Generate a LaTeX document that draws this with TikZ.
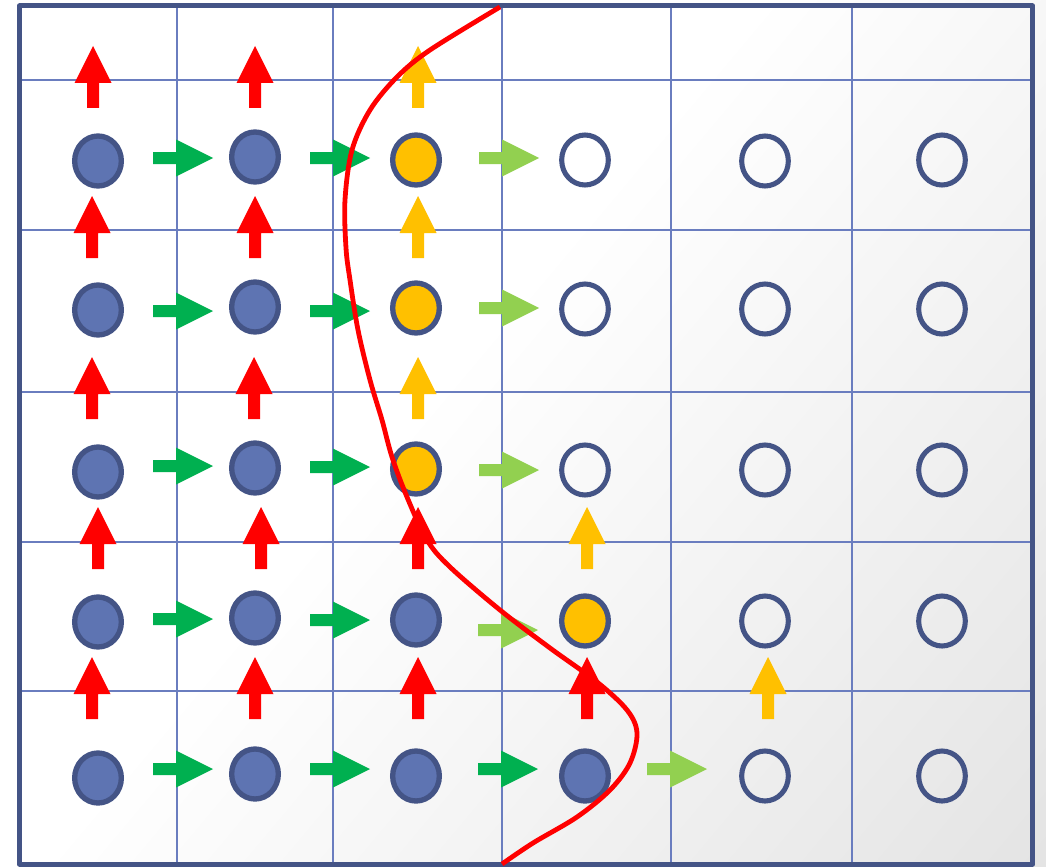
\documentclass[tikz,border=0pt]{standalone}
\usetikzlibrary{shapes.geometric,shadings}
\definecolor{framec}{RGB}{68,84,134}
\definecolor{gridc}{RGB}{106,125,191}
\definecolor{cfill}{RGB}{94,116,178}
\definecolor{orangec}{RGB}{255,192,0}
\definecolor{dgreen}{RGB}{0,176,80}
\definecolor{lgreen}{RGB}{146,208,80}
\definecolor{redc}{RGB}{255,0,0}
\definecolor{bgedge}{RGB}{228,228,228}
\pgfdeclarehorizontalshading{bgshade}{100bp}{color(0bp)=(white); color(45bp)=(white); color(85bp)=(bgedge); color(100bp)=(bgedge)}
\tikzset{
  x=0.75pt, y=-0.75pt,
  cell/.style={ellipse, draw=framec, line width=4pt, minimum width=35pt, minimum height=37.5pt, inner sep=0pt},
  solid cell/.style={cell, fill=cfill},
  front cell/.style={cell, fill=orangec},
  open cell/.style={cell, fill=none, line width=3.8pt},
  gridline/.style={draw=gridc, line width=1.1pt},
  uparr/.pic={\fill (0,0) -- (18.5,37) -- (6,37) -- (6,62) -- (-6,62) -- (-6,37) -- (-18.5,37) -- cycle;},
  rarr/.pic={\fill (0,0) -- (-37,18.5) -- (-37,6) -- (-60,6) -- (-60,-6) -- (-37,-6) -- (-37,-18.5) -- cycle;}
}
\begin{document}
\begin{tikzpicture}
\useasboundingbox (0,0) rectangle (1046,867);
\shade[shading=bgshade, shading angle=-40] (0,0) rectangle (1046,867);
% grid
\foreach \gx in {177,333,502,671,852} \draw[gridline] (\gx,6) -- (\gx,864);
\foreach \gy in {80,230,392,542,691} \draw[gridline] (19.5,\gy) -- (1032.5,\gy);
\draw[framec, line width=3.75pt, line join=round] (19.5,6) rectangle (1032.5,864);
% circles
\node[solid cell] (c11) at (98,161) {};
\node[solid cell] (c12) at (255,157) {};
\node[front cell] (c13) at (416,160) {};
\node[open cell]  (c14) at (585,160) {};
\node[open cell]  (c15) at (765,161) {};
\node[open cell]  (c16) at (942,160) {};
\node[solid cell] (c21) at (98,310) {};
\node[solid cell] (c22) at (255,307) {};
\node[front cell] (c23) at (416,308) {};
\node[open cell]  (c24) at (585,309) {};
\node[open cell]  (c25) at (765,309) {};
\node[open cell]  (c26) at (942,309) {};
\node[solid cell] (c31) at (98,472) {};
\node[solid cell] (c32) at (255,468) {};
\node[front cell] (c33) at (416,469) {};
\node[open cell]  (c34) at (585,470) {};
\node[open cell]  (c35) at (765,470) {};
\node[open cell]  (c36) at (942,470) {};
\node[solid cell] (c41) at (98,622) {};
\node[solid cell] (c42) at (255,618) {};
\node[solid cell] (c43) at (416,620) {};
\node[front cell] (c44) at (585,621) {};
\node[open cell]  (c45) at (765,621) {};
\node[open cell]  (c46) at (942,621) {};
\node[solid cell] (c51) at (98,778) {};
\node[solid cell] (c52) at (255,774) {};
\node[solid cell] (c53) at (416,776) {};
\node[solid cell] (c54) at (585,776) {};
\node[open cell]  (c55) at (765,776) {};
\node[open cell]  (c56) at (942,776) {};
% up arrows
\pic[redc] at (93,46) {uparr};
\pic[redc] at (255,46) {uparr};
\pic[orangec] at (418,46) {uparr};
\pic[redc] at (92,196) {uparr};
\pic[redc] at (255,196) {uparr};
\pic[orangec] at (418,196) {uparr};
\pic[redc] at (92,357) {uparr};
\pic[redc] at (254,357) {uparr};
\pic[orangec] at (418,357) {uparr};
\pic[redc] at (98,507) {uparr};
\pic[redc] at (261,507) {uparr};
\pic[redc] at (418,507) {uparr};
\pic[orangec] at (587,507) {uparr};
\pic[redc] at (92,657) {uparr};
\pic[redc] at (255,657) {uparr};
\pic[redc] at (418,657) {uparr};
\pic[redc] at (587,657) {uparr};
\pic[orangec] at (768,657) {uparr};
% right arrows
\pic[dgreen] at (213,158) {rarr};
\pic[dgreen] at (370,158) {rarr};
\pic[lgreen] at (539,158) {rarr};
\pic[dgreen] at (213,311) {rarr};
\pic[dgreen] at (370,311) {rarr};
\pic[lgreen] at (539,308) {rarr};
\pic[dgreen] at (213,466) {rarr};
\pic[dgreen] at (370,467) {rarr};
\pic[lgreen] at (539,470) {rarr};
\pic[dgreen] at (213,619) {rarr};
\pic[dgreen] at (370,620) {rarr};
\pic[lgreen] at (538,630) {rarr};
\pic[dgreen] at (213,769) {rarr};
\pic[dgreen] at (370,769) {rarr};
\pic[dgreen] at (538,769) {rarr};
\pic[lgreen] at (707,769) {rarr};
% front curve
\draw[redc, line width=3.6pt] plot[smooth, tension=0.55] coordinates {
(500,7) (430,50) (397,77) (370,110) (352,150) (345,200) (346,248) (350,280)
(358,330) (370,380) (382,420) (392,457) (407,497) (427,540) (450,567)
(500,610) (550,648) (597,682) (627,710) (637,733) (630,763) (610,790)
(577,817) (533,843) (502,864)};
\end{tikzpicture}
\end{document}
